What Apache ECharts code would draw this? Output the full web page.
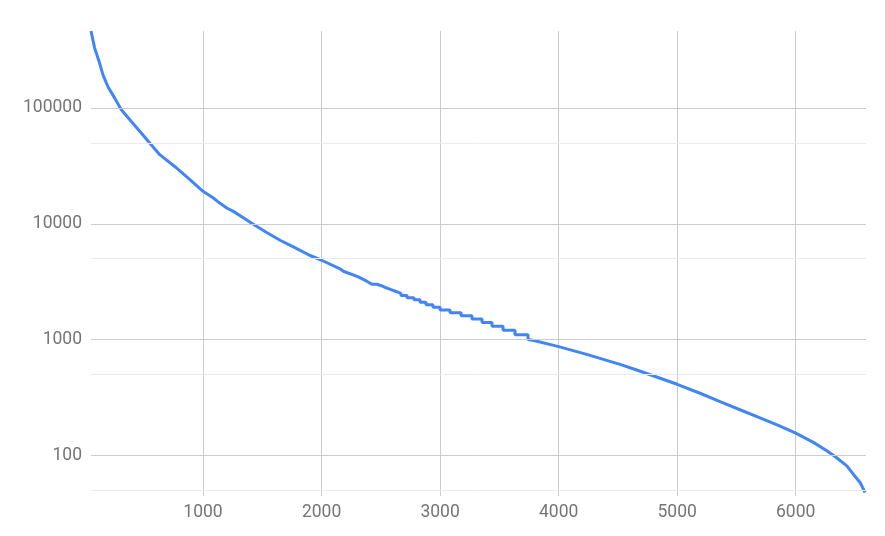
<!DOCTYPE html>
<html>
<head>
<meta charset="utf-8">
<script src="https://cdn.jsdelivr.net/npm/echarts@6/dist/echarts.min.js"></script>
<style>
html,body{margin:0;padding:0;background:#fff;}
#chart{width:885px;height:536px;}
</style>
</head>
<body>
<div id="chart"></div>
<script>
// Rank (x) values
var ranks = [55, 86, 128, 156, 198, 255, 311, 395, 479, 550, 635, 761, 873, 1000, 1087, 1141, 1200, 1256, 1340, 1424, 1537, 1650, 1762, 1903, 2001, 2156, 2184, 2310, 2381,
  2425, 2468, 2468, 2510, 2510, 2544, 2544, 2586, 2586, 2628, 2628, 2670, 2670, 2721, 2721, 2780, 2780, 2831, 2831, 2881, 2881, 2940, 2940, 3000, 3000, 3084, 3084, 3177, 3177, 3269, 3269, 3354, 3354, 3438, 3438, 3531, 3531, 3632, 3632, 3742, 3742,
  3800, 4000, 4237, 4518, 4659, 5000, 5193, 5362, 5530, 5699, 5868, 6000, 6149, 6262, 6332, 6431, 6486, 6543, 6585];
// Values (log scale)
var values = [464000, 330000, 244000, 194000, 153000, 122000, 96700, 76600, 61000, 49900, 39600, 31300, 24900, 19100, 16700, 15100, 13700, 12800, 11300, 9900, 8400, 7210, 6320, 5320, 4840, 4080, 3890, 3480, 3190,
  3000, 3000, 2900, 2900, 2800, 2800, 2700, 2700, 2600, 2600, 2500, 2500, 2400, 2400, 2300, 2300, 2200, 2200, 2100, 2100, 2000, 2000, 1900, 1900, 1800, 1800, 1700, 1700, 1600, 1600, 1500, 1500, 1400, 1400, 1300, 1300, 1200, 1200, 1100, 1100, 1000,
  975, 867, 744, 610, 545, 410, 343, 290, 247, 210, 178, 155, 129, 109, 97.4, 80.9, 68.5, 58.1, 47.6];
var xTicks = [1000, 2000, 3000, 4000, 5000, 6000];
var yMajor = [100, 1000, 10000, 100000];
var yMinor = [50, 500, 5000, 50000];
var xMin = 55, xMax = 6593, yMin = 50, yMax = 464000;

var data = ranks.map(function (r, i) { return [r, values[i]]; });
var chart = echarts.init(document.getElementById('chart'), null, {renderer: 'canvas'});
var plain = function (v) { return String(Math.round(v)); };
var labelStyle = {color: '#757575', fontSize: 17.5, fontFamily: 'Roboto', formatter: plain};
chart.setOption({
  animation: false,
  grid: {left: 91, right: 19, top: 31, bottom: 46, containLabel: false},
  xAxis: {
    type: 'value', min: xMin, max: xMax,
    axisLine: {show: false},
    axisTick: {show: true, length: 6, customValues: xTicks, lineStyle: {color: '#cccccc', width: 1}},
    axisLabel: Object.assign({margin: 14, customValues: xTicks}, labelStyle),
    splitLine: {show: true, lineStyle: {color: '#cccccc', width: 1}}
  },
  yAxis: {
    type: 'log', logBase: 10, min: yMin, max: yMax,
    axisLine: {show: false}, axisTick: {show: false},
    axisLabel: Object.assign({margin: 9, customValues: yMajor}, labelStyle),
    splitLine: {show: false}
  },
  series: [
    {
      type: 'line', data: [], z: 1, silent: true,
      markLine: {
        silent: true, symbol: 'none', label: {show: false}, animation: false,
        data: yMinor.map(function (v) { return {yAxis: v, lineStyle: {color: '#ebebeb', width: 1, type: 'solid'}}; })
          .concat(yMajor.map(function (v) { return {yAxis: v, lineStyle: {color: '#cccccc', width: 1, type: 'solid'}}; }))
      }
    },
    {
      type: 'line', data: data, showSymbol: false, z: 3, clip: false,
      lineStyle: {color: '#4285F4', width: 3},
      itemStyle: {color: '#4285F4'}
    }
  ]
});
</script>
</body>
</html>
